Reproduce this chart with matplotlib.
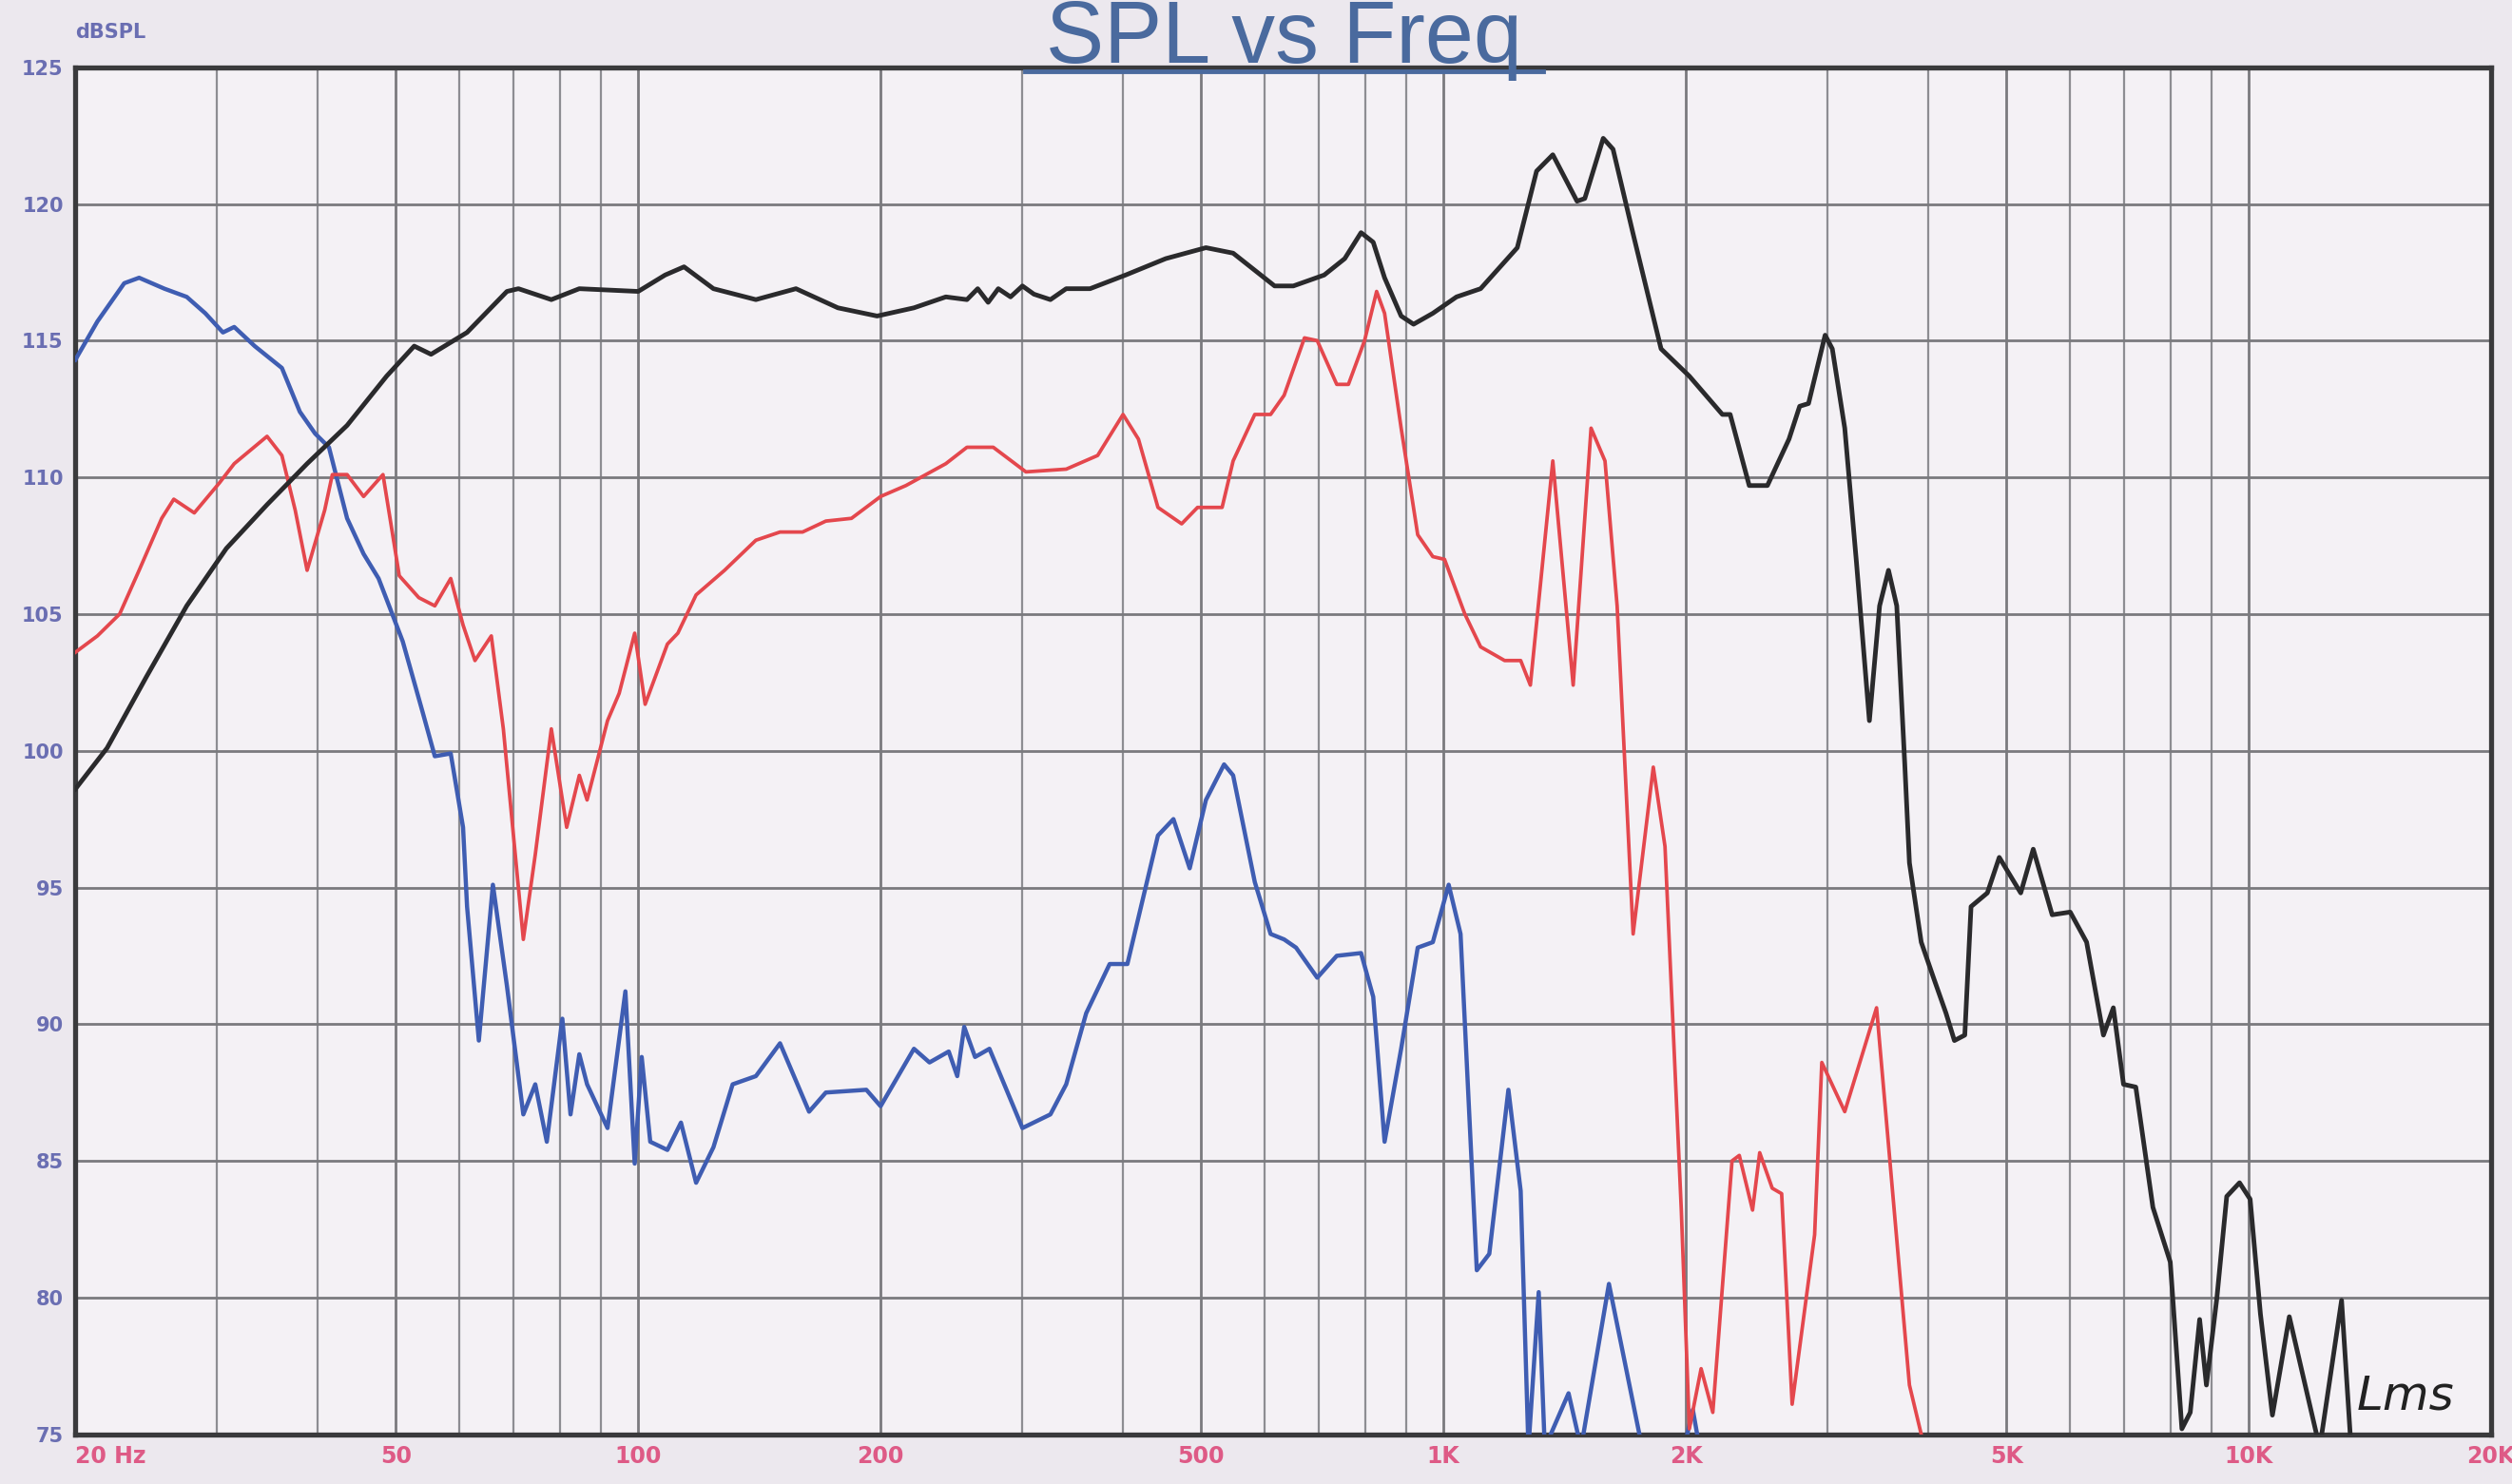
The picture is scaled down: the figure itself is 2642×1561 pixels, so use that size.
import matplotlib
matplotlib.use('Agg')
import matplotlib.pyplot as plt
from matplotlib.lines import Line2D
from matplotlib.ticker import FixedLocator, LogLocator, NullFormatter

# ---------------- data ----------------
black_freq = [20, 21.9, 24.5, 27.5, 30.8, 34.6, 38.8, 43.5, 48.7, 52.7, 55.3, 61.3, 68.7, 71, 78, 84.5,
              100, 108, 114, 124, 140, 157, 177, 198, 220, 241, 256, 264, 272, 280, 290, 300, 310, 325,
              340, 364, 403, 452, 507, 548, 617, 651, 711, 754, 790, 818, 845, 886, 918, 970, 1038, 1112,
              1235, 1305, 1367, 1465, 1498, 1579, 1624, 1720, 1863, 2020, 2220, 2270, 2397, 2525, 2686,
              2769, 2840, 2978, 3040, 3150, 3257, 3380, 3480, 3570, 3655, 3740, 3790, 3920, 4060, 4208,
              4310, 4440, 4520, 4736, 4900, 5210, 5400, 5700, 6002, 6290, 6600, 6790, 6990, 7240, 7603,
              7990, 8260, 8460, 8690, 8860, 9130, 9390, 9740, 10040, 10340, 10700, 11230, 12250, 13040,
              13400]
black_db = [98.6, 100.1, 102.7, 105.3, 107.4, 109.0, 110.5, 111.9, 113.7, 114.8, 114.5, 115.3, 116.8, 116.9,
            116.5, 116.9, 116.8, 117.4, 117.7, 116.9, 116.5, 116.9, 116.2, 115.9, 116.2, 116.6, 116.5,
            116.9, 116.4, 116.9, 116.6, 117.0, 116.7, 116.5, 116.9, 116.9, 117.4, 118.0, 118.4, 118.2,
            117.0, 117.0, 117.4, 118.0, 118.95, 118.6, 117.3, 115.9, 115.6, 116.0, 116.6, 116.9, 118.4,
            121.2, 121.8, 120.1, 120.2, 122.4, 122.0, 118.9, 114.7, 113.7, 112.3, 112.3, 109.7, 109.7,
            111.4, 112.6, 112.7, 115.2, 114.7, 111.8, 106.9, 101.1, 105.3, 106.6, 105.3, 99.5, 95.9, 93.0,
            91.7, 90.4, 89.4, 89.6, 94.3, 94.8, 96.1, 94.8, 96.4, 94.0, 94.1, 93.0, 89.6, 90.6, 87.8, 87.7,
            83.3, 81.3, 75.2, 75.8, 79.2, 76.8, 80.0, 83.7, 84.2, 83.6, 79.4, 75.7, 79.3, 74.5, 79.9, 74.5]

red_freq = [20, 21.3, 22.7, 24, 25.6, 26.5, 28.1, 30.2, 31.5, 34.6, 36.1, 37.5, 38.8, 40.8, 41.7, 43.5,
            45.6, 48.2, 50.5, 53.4, 55.9, 58.5, 60.6, 62.7, 65.7, 68, 72, 74.5, 78, 81.5, 84.5, 86.4, 91.6,
            94.7, 99, 102, 108.7, 112, 118, 128, 140, 150, 160, 171, 184, 200, 215, 241, 256, 276, 303,
            340, 372, 400, 418, 442, 473, 495, 531, 548, 583, 610, 634, 672, 697, 737, 762, 798, 826, 845,
            886, 929, 970, 1003, 1063, 1112, 1191, 1247, 1282, 1367, 1449, 1525, 1587, 1643, 1720, 1822,
            1884, 1974, 2020, 2089, 2160, 2282, 2330, 2420, 2470, 2560, 2630, 2710, 2890, 2950, 3150,
            3450, 3790, 3920, 4000]
red_db = [103.6, 104.2, 105.0, 106.6, 108.5, 109.2, 108.7, 109.8, 110.5, 111.5, 110.8, 108.8, 106.6, 108.8,
          110.1, 110.1, 109.3, 110.1, 106.4, 105.6, 105.3, 106.3, 104.6, 103.3, 104.2, 100.8, 93.1, 96.2,
          100.8, 97.2, 99.1, 98.2, 101.1, 102.1, 104.3, 101.7, 103.9, 104.3, 105.7, 106.6, 107.7, 108.0,
          108.0, 108.4, 108.5, 109.3, 109.7, 110.5, 111.1, 111.1, 110.2, 110.3, 110.8, 112.3, 111.4, 108.9,
          108.3, 108.9, 108.9, 110.6, 112.3, 112.3, 113.0, 115.1, 115.0, 113.4, 113.4, 115.0, 116.8, 116.0,
          111.8, 107.9, 107.1, 107.0, 105.0, 103.8, 103.3, 103.3, 102.4, 110.6, 102.4, 111.8, 110.6, 105.3,
          93.3, 99.4, 96.5, 83.2, 75.2, 77.4, 75.8, 85.0, 85.2, 83.2, 85.3, 84.0, 83.8, 76.1, 82.3, 88.6,
          86.8, 90.6, 76.8, 75.0, 74.0]

blue_freq = [20, 21.3, 23, 24, 25.8, 27.5, 29, 30.5, 31.5, 33.4, 36.1, 38, 39.7, 41.3, 43.5, 45.6, 47.6,
             51, 54, 55.9, 58.5, 60.6, 61.3, 63.4, 66, 68.7, 72, 74.5, 77, 80.5, 82.4, 84.5, 86.4, 91.6,
             96.4, 99, 101, 103.5, 108.7, 113, 118, 124, 131, 140, 150, 163, 171, 192, 200, 220, 230, 243,
             249, 254, 262, 273, 300, 325, 340, 360, 385, 405, 442, 462, 484, 507, 534, 548, 583, 610, 634,
             656, 697, 737, 790, 818, 845, 886, 929, 970, 1015, 1050, 1100, 1140, 1204, 1247, 1275, 1313,
             1336, 1430, 1482, 1605, 1765, 1990, 2040, 2080]
blue_db = [114.3, 115.7, 117.1, 117.3, 116.9, 116.6, 116.0, 115.3, 115.5, 114.8, 114.0, 112.4, 111.6, 111.1,
           108.5, 107.2, 106.3, 104.0, 101.4, 99.8, 99.9, 97.2, 94.3, 89.4, 95.1, 91.4, 86.7, 87.8, 85.7,
           90.2, 86.7, 88.9, 87.8, 86.2, 91.2, 84.9, 88.8, 85.7, 85.4, 86.4, 84.2, 85.5, 87.8, 88.1, 89.3,
           86.8, 87.5, 87.6, 87.0, 89.1, 88.6, 89.0, 88.1, 89.9, 88.8, 89.1, 86.2, 86.7, 87.8, 90.4, 92.2,
           92.2, 96.9, 97.5, 95.7, 98.2, 99.5, 99.1, 95.2, 93.3, 93.1, 92.8, 91.7, 92.5, 92.6, 91.0, 85.7,
           89.1, 92.8, 93.0, 95.1, 93.3, 81.0, 81.6, 87.6, 83.9, 74.5, 80.2, 74.5, 76.5, 74.5, 80.5, 74.5,
           74.5, 75.9, 74.5]

xtick_values = [20, 50, 100, 200, 500, 1000, 2000, 5000, 10000, 20000]
xtick_labels = ['20 Hz', '50', '100', '200', '500', '1K', '2K', '5K', '10K', '20K']
ytick_values = [75, 80, 85, 90, 95, 100, 105, 110, 115, 120, 125]
ytick_labels = ['75', '80', '85', '90', '95', '100', '105', '110', '115', '120', '125']

title_text = 'SPL vs Freq'
yunit_text = 'dBSPL'
signature_text = 'Lms'

# ---------------- figure ----------------
W, H = 2642, 1561
fig = plt.figure(figsize=(W / 100, H / 100), dpi=100, facecolor='#ece8ee')
ax = fig.add_axes([0.0300, 0.0335, 0.9617, 0.9212])
ax.set_facecolor('#f4f1f5')

ax.set_xscale('log')
ax.set_xlim(20, 20000)
ax.set_ylim(75, 125)

ax.xaxis.set_major_locator(FixedLocator(xtick_values))
ax.xaxis.set_minor_locator(LogLocator(base=10, subs=[1, 2, 3, 4, 5, 6, 7, 8, 9], numticks=20))
ax.xaxis.set_minor_formatter(NullFormatter())
ax.set_xticklabels(xtick_labels)
ax.yaxis.set_major_locator(FixedLocator(ytick_values))
ax.set_yticklabels(ytick_labels)

ax.grid(which='major', axis='both', color='#7a7a7e', linewidth=2.0, zorder=0)
ax.grid(which='minor', axis='x', color='#8d8d92', linewidth=1.6, zorder=0)
ax.set_axisbelow(True)

ax.tick_params(axis='both', which='both', length=0)
ax.tick_params(axis='x', pad=8, labelsize=17, labelcolor='#de5a86')
ax.tick_params(axis='y', pad=9, labelsize=15, labelcolor='#6a6eb2')
for t in ax.get_xticklabels() + ax.get_yticklabels():
    t.set_fontweight('bold')
    t.set_family(['Liberation Sans Narrow', 'DejaVu Sans'])
ax.xaxis.get_major_ticks()[0].label1.set_horizontalalignment('left')

for s in ax.spines.values():
    s.set_color('#3a3a3c')
    s.set_linewidth(3.8)

ax.plot(blue_freq, blue_db, color='#3f5db2', linewidth=3.2, solid_joinstyle='round', zorder=3)
ax.plot(red_freq, red_db, color='#e4474d', linewidth=2.7, solid_joinstyle='round', zorder=4)
ax.plot(black_freq, black_db, color='#2a2a2c', linewidth=3.5, solid_joinstyle='round', zorder=5)

# signature
ax.text(13600, 75.9, signature_text, fontsize=36, style='italic', color='#222222',
        family='DejaVu Sans', ha='left', va='baseline', zorder=6)

# title (underlined, sitting on the top frame)
fig.text(0.511, 0.9575, title_text, fontsize=66, color='#4a6a9e', ha='center', va='baseline',
         family=['Liberation Sans', 'DejaVu Sans'])
fig.add_artist(Line2D([640 / 1568, 963 / 1568], [0.9522, 0.9522], color='#4a6a9e', linewidth=3.5))

# unit label
fig.text(0.030, 0.978, yunit_text, fontsize=15, fontweight='bold', color='#6a6eb2', ha='left',
         va='center', family=['Liberation Sans Narrow', 'DejaVu Sans'])

fig.savefig('out.png', dpi=100, facecolor=fig.get_facecolor())
